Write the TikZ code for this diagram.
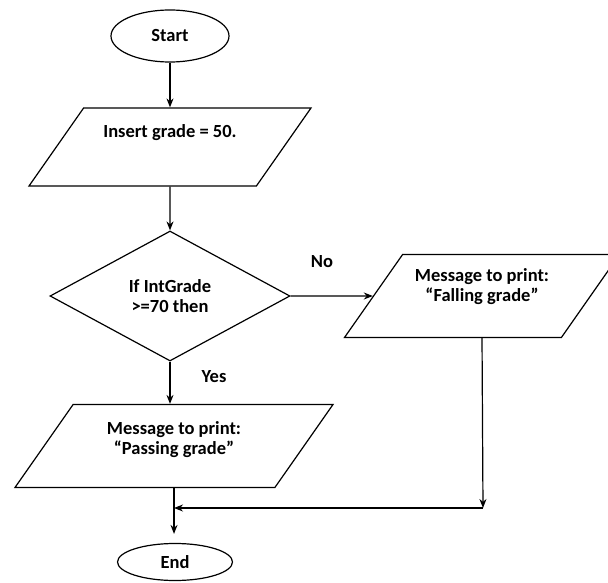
\documentclass[tikz,border=0pt]{standalone}
\usepackage{fontspec}
\setmainfont{Carlito}
\usetikzlibrary{positioning,calc,shapes.geometric,arrows,arrows.meta}

\tikzset{
	flowbox/.style={draw, line width=1.2pt, font=\fontsize{18.5}{20}\selectfont\bfseries, align=center, inner sep=1pt},
	termbox/.style={flowbox, ellipse},
	iobox/.style={flowbox, trapezium, trapezium left angle=55, trapezium right angle=125, trapezium stretches body},
	ifbox/.style={flowbox, diamond},
	tag/.style={font=\fontsize{18.5}{20}\selectfont\bfseries, inner sep=1pt},
}

\begin{document}
\begin{tikzpicture}[x=1pt, y=-1pt, line width=1.2pt, >={Stealth[length=9pt, width=7pt]}]
	\useasboundingbox (0,0) rectangle (608,583);

	\node[termbox, minimum width=118pt, minimum height=52pt] (start) at (170, 36) {Start};
	\node[iobox, minimum width=282pt, text height=29pt, text depth=47pt] (ins) at (170, 147) {Insert grade = 50.};
	\node[ifbox, minimum width=240pt, minimum height=130pt] (test) at (170, 296) {If IntGrade\\>=70 then};
	\node[iobox, minimum width=318pt, text height=49pt, text depth=32pt] (pass) at (174, 446) {Message to print:\\“Passing grade”};
	\node[iobox, minimum width=275pt, text height=46pt, text depth=35pt] (fail) at (482, 296) {Message to print:\\“Falling grade”};
	\node[termbox, minimum width=115pt, minimum height=37pt] (end) at (175, 562) {End};

	\node[tag] (no)  at (322, 262) {No};
	\node[tag] (yes) at (214, 377) {Yes};

	\coordinate (merge) at (483, 508);

	\draw [->] (start) to (ins);
	\draw [->] (ins) to (test);
	\draw [->] (test.south) to (test.south |- pass.north);
	\draw [->] (test.east) to (fail);
	\draw [->] (fail.south) to (merge);
	\draw [->] (merge) to (merge -| pass.south);
	\draw [->, shorten >=9pt] (pass.south) to (pass.south |- end.north);
\end{tikzpicture}
\end{document}
